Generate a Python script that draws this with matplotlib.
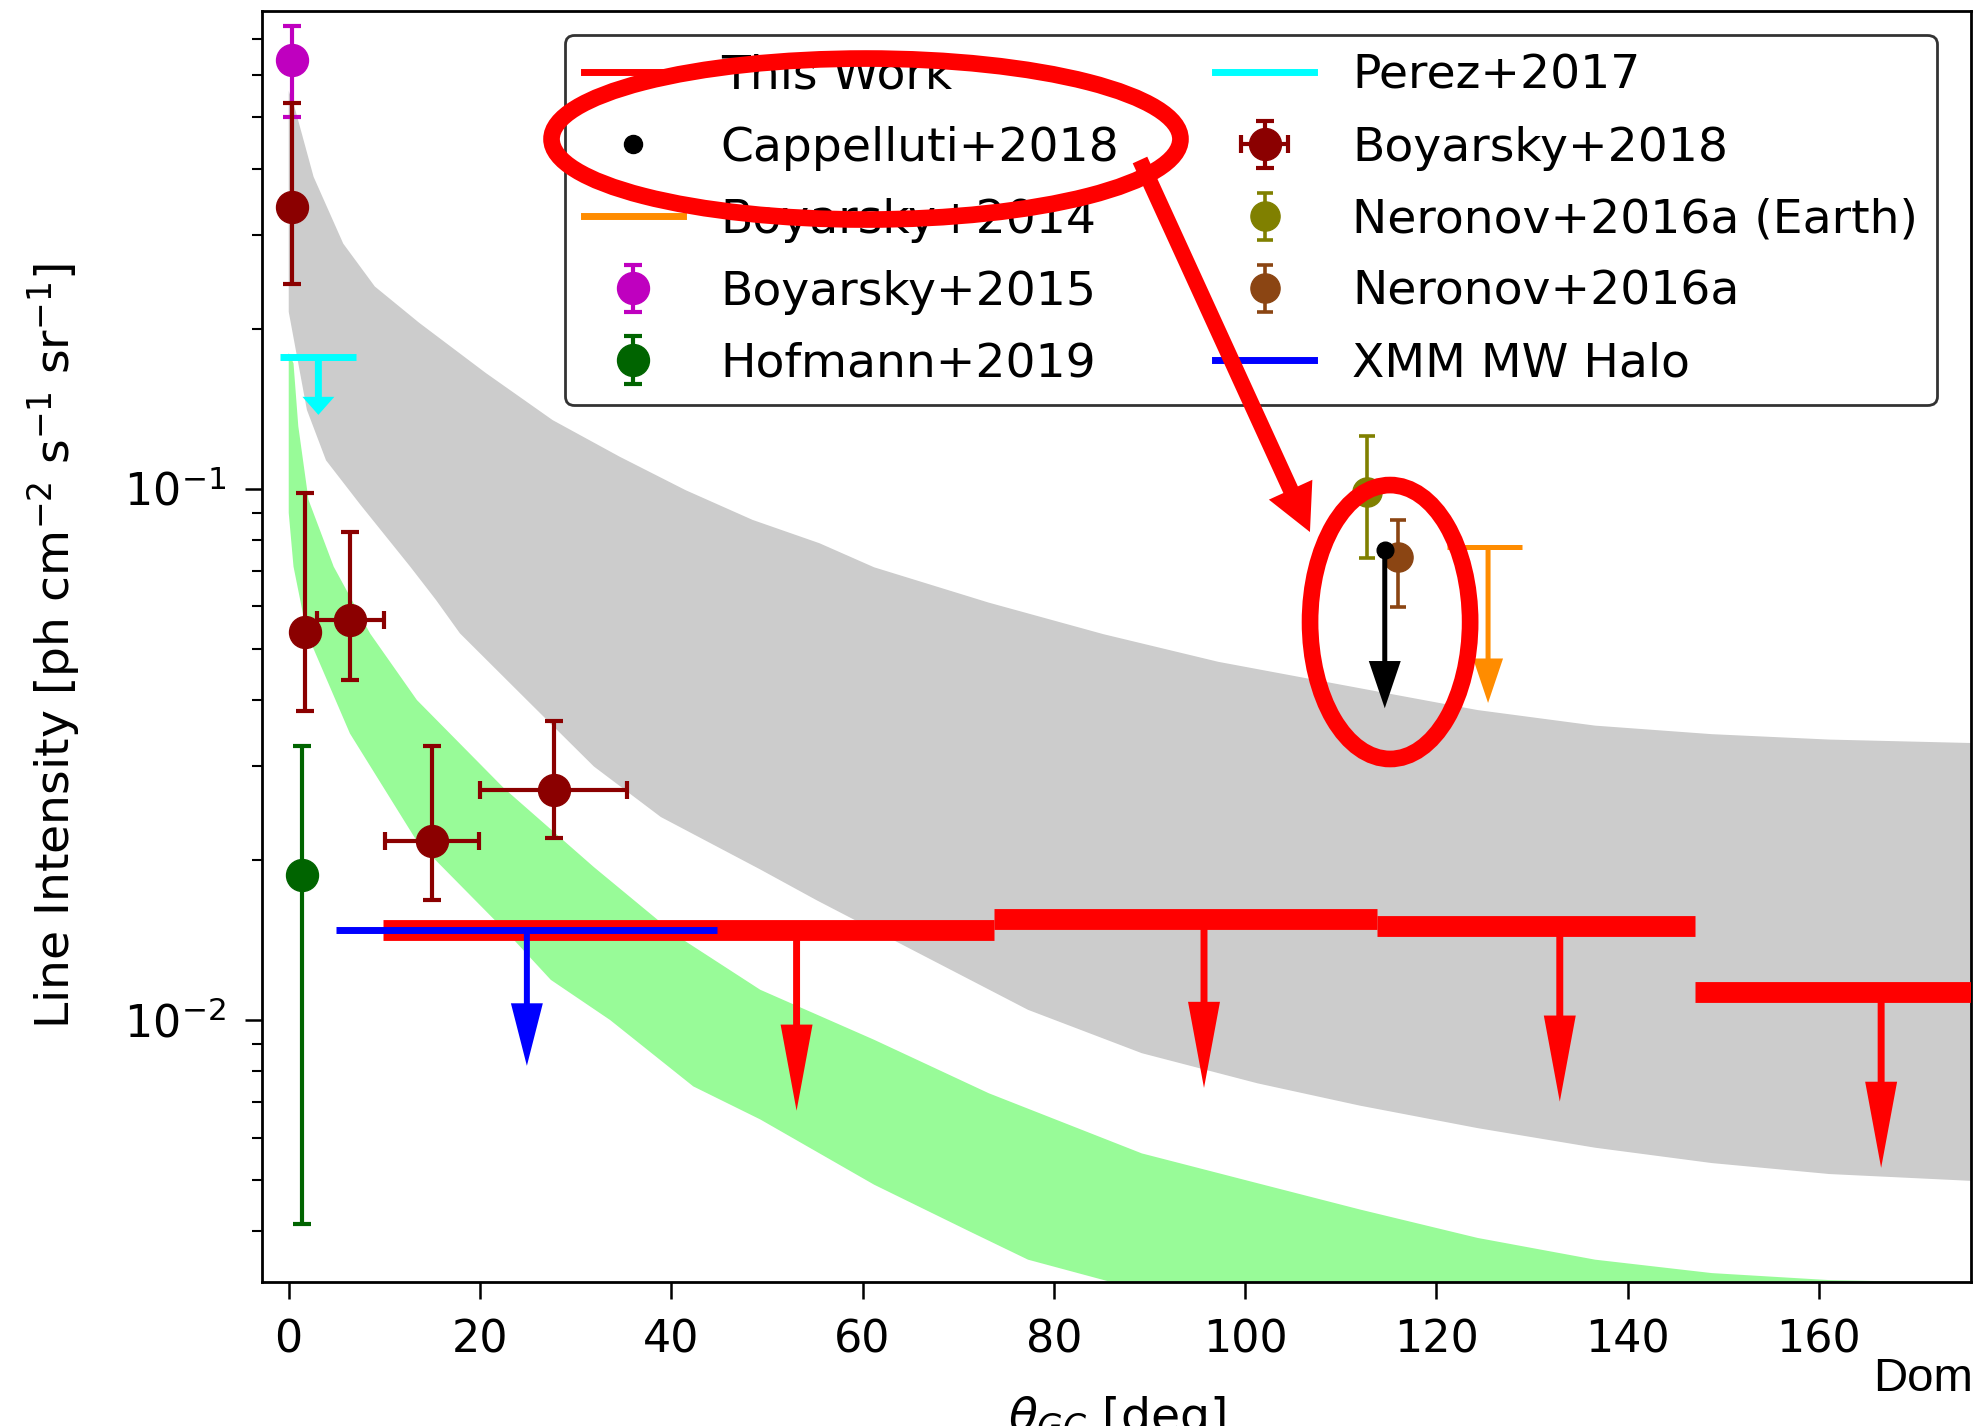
#!/usr/bin/env python3
# -*- coding: utf-8 -*-
"""
3.5 keV 線強度の上限値と各種観測の比較図 (スライド切り抜き風・赤丸注記付き)
"""

import numpy as np
import matplotlib
matplotlib.use('Agg')
import matplotlib.pyplot as plt
from matplotlib.lines import Line2D
from matplotlib.patches import Ellipse, FancyArrowPatch

# =================================================================
# データ (角度 [deg], 線強度 [ph cm^-2 s^-1 sr^-1])
# =================================================================
# 灰色バンド
gray_up_x = [0.0, 0.7, 2.6, 5.7, 9.0, 13.65, 20.6, 27.6, 34.6, 41.5, 48.5, 55.5,
             61.2, 73.2, 85.2, 97.2, 112.0, 124.3, 136.6, 148.8, 161.1, 176.0]
gray_up_y = [0.56, 0.515, 0.386, 0.289, 0.240, 0.205, 0.165, 0.1345, 0.1148, 0.0993,
             0.0873, 0.0789, 0.0711, 0.0610, 0.0532, 0.0472, 0.0421, 0.0383, 0.0358,
             0.0345, 0.0337, 0.0332]
gray_lo_x = [0.0, 1.9, 3.9, 7.5, 12.7, 15.4, 17.9, 24.9, 31.9, 38.9, 49.3, 55.2, 65.2,
             77.3, 89.2, 101.3, 112.0, 124.3, 136.6, 148.8, 161.1, 176.0]
gray_lo_y = [0.215, 0.1406, 0.113, 0.0932, 0.0713, 0.0617, 0.0534, 0.0400, 0.0300,
             0.0241, 0.0192, 0.0168, 0.01355, 0.01045, 0.00866, 0.0076, 0.0069,
             0.00626, 0.00575, 0.00538, 0.00513, 0.00498]

# 緑バンド
green_up_x = [0.0, 0.5, 1.0, 2.07, 4.7, 8.5, 13.4, 22.5, 31.9, 40.6, 49.3, 61.2, 73.2,
              89.2, 101.3, 112.0, 124.3, 136.6, 148.8, 161.1, 176.0]
green_up_y = [0.18, 0.172, 0.131, 0.0952, 0.0713, 0.0534, 0.0400, 0.0273, 0.0194,
              0.0144, 0.0114, 0.00918, 0.00728, 0.00561, 0.00493, 0.0044, 0.00389,
              0.00354, 0.00334, 0.00324, 0.0032]
green_lo_x = [0.0, 0.5, 1.9, 6.4, 13.4, 23.0, 27.4, 33.6, 42.3, 49.3, 61.2, 71.2, 77.3,
              89.2, 100.0, 130.0, 176.0]
green_lo_y = [0.09, 0.0713, 0.0534, 0.0346, 0.0217, 0.0145, 0.0119, 0.0100, 0.0075,
              0.0065, 0.0049, 0.0040, 0.00354, 0.0031, 0.0028, 0.0022, 0.0017]

# This Work (上限値)
tw_x_lo = [9.9, 73.7, 113.8, 147.0]
tw_x_hi = [73.7, 113.8, 147.0, 180.0]
tw_y = [0.01477, 0.01547, 0.0150, 0.01128]
tw_arrow_x = [53.1, 95.7, 132.9, 166.5]
tw_tip = [0.00675, 0.00745, 0.00702, 0.00527]

# XMM MW Halo
xmm_x_lo, xmm_x_hi = [4.9], [44.8]
xmm_y = [0.01477]
xmm_arrow_x = [24.9]
xmm_tip = [0.0082]

# Perez+2017
perez_x_lo, perez_x_hi = [-0.9], [7.0]
perez_y = [0.177]
perez_arrow_x = [3.1]
perez_tip = [0.1376]

# Boyarsky+2014
boy14_x_lo, boy14_x_hi = [121.1], [128.9]
boy14_y = [0.0777]
boy14_arrow_x = [125.4]
boy14_tip = [0.0395]

# Cappelluti+2018
cap18_x = [114.6]
cap18_y = [0.0766]
cap18_tip = [0.0386]

# Boyarsky+2015
boy15_x = [0.3]
boy15_y = [0.640]
boy15_lo = [0.501]
boy15_hi = [0.742]

# Boyarsky+2018
boy18_x = [0.33, 1.73, 6.45, 14.98, 27.7]
boy18_xerr = [0.0, 0.0, 3.5, 4.9, 7.65]
boy18_y = [0.339, 0.0538, 0.0566, 0.0217, 0.0271]
boy18_lo = [0.243, 0.0382, 0.0436, 0.0168, 0.0220]
boy18_hi = [0.531, 0.098, 0.0829, 0.0328, 0.0366]

# Hofmann+2019
hof19_x = [1.38]
hof19_y = [0.01875]
hof19_lo = [0.00413]
hof19_hi = [0.0328]

# Neronov+2016a (Earth)
ner_e_x = [112.7]
ner_e_y = [0.0986]
ner_e_lo = [0.0740]
ner_e_hi = [0.1258]

# Neronov+2016a
ner_x = [116.0]
ner_y = [0.0743]
ner_lo = [0.0599]
ner_hi = [0.0873]

X_TICKS = [0, 20, 40, 60, 80, 100, 120, 140, 160]


def yerr_of(y, lo, hi):
    y, lo, hi = map(np.asarray, (y, lo, hi))
    return [y - lo, hi - y]


def down_arrows(ax, xs, ys, tips, color, head_len, head_w, tail_w, z=6):
    # 上限値を示す下向き矢印 (サイズは pt)
    for x, y, t in zip(xs, ys, tips):
        style = f'simple,head_length={head_len},head_width={head_w},tail_width={tail_w}'
        ax.annotate('', xy=(x, t), xytext=(x, y),
                    arrowprops=dict(arrowstyle=style, fc=color, ec='none', lw=0,
                                    shrinkA=0, shrinkB=0, mutation_scale=1),
                    zorder=z)


fig = plt.figure(figsize=(19.74, 14.26), dpi=100)
ax = fig.add_axes([0.1327, 0.1010, 0.8658, 0.8913])
ax.set_yscale('log')

# --- バンド ---
ax.fill(np.concatenate([gray_up_x, gray_lo_x[::-1]]),
        np.concatenate([gray_up_y, gray_lo_y[::-1]]),
        color='#cccccc', lw=0, zorder=1)
ax.fill(np.concatenate([green_up_x, green_lo_x[::-1]]),
        np.concatenate([green_up_y, green_lo_y[::-1]]),
        color='#98fb98', lw=0, zorder=1)

# --- 上限値 (水平線 + 矢印) ---
ax.hlines(tw_y, tw_x_lo, tw_x_hi, colors='red', lw=15, zorder=3)
down_arrows(ax, tw_arrow_x, tw_y, tw_tip, 'red', 62, 23, 5)
ax.hlines(xmm_y, xmm_x_lo, xmm_x_hi, colors='blue', lw=5, zorder=4)
down_arrows(ax, xmm_arrow_x, xmm_y, xmm_tip, 'blue', 45, 23, 4.3)
ax.hlines(perez_y, perez_x_lo, perez_x_hi, colors='cyan', lw=5, zorder=4)
down_arrows(ax, perez_arrow_x, perez_y, perez_tip, 'cyan', 13, 23, 5)
ax.hlines(boy14_y, boy14_x_lo, boy14_x_hi, colors='darkorange', lw=3.6, zorder=4)
down_arrows(ax, boy14_arrow_x, boy14_y, boy14_tip, 'darkorange', 32, 21.6, 3.6)
down_arrows(ax, cap18_x, cap18_y, cap18_tip, 'black', 34, 23, 3.6)

# --- 測定点 ---
eb_kw = dict(fmt='o', ms=23, elinewidth=3, capsize=6.5, capthick=3, zorder=5)
h_b15 = ax.errorbar(boy15_x, boy15_y, yerr=yerr_of(boy15_y, boy15_lo, boy15_hi),
                    color='m', **eb_kw)
h_b18 = ax.errorbar(boy18_x, boy18_y, yerr=yerr_of(boy18_y, boy18_lo, boy18_hi),
                    xerr=boy18_xerr, color='#8b0000', **eb_kw)
h_hof = ax.errorbar(hof19_x, hof19_y, yerr=yerr_of(hof19_y, hof19_lo, hof19_hi),
                    color='darkgreen', **eb_kw)
eb_kw2 = dict(fmt='o', ms=21, elinewidth=2.6, capsize=6, capthick=2.6, zorder=5)
h_nere = ax.errorbar(ner_e_x, ner_e_y, yerr=yerr_of(ner_e_y, ner_e_lo, ner_e_hi),
                     color='olive', **eb_kw2)
h_ner = ax.errorbar(ner_x, ner_y, yerr=yerr_of(ner_y, ner_lo, ner_hi),
                    color='saddlebrown', **eb_kw2)
h_cap, = ax.plot(cap18_x, cap18_y, 'o', color='k', ms=12, zorder=7)

# --- 軸 ---
ax.set_xlim(-2.8, 175.9)
ax.set_ylim(0.003214, 0.7918)
ax.set_xticks(X_TICKS)
ax.tick_params(which='major', length=12, width=1.8, labelsize=32, pad=14)
ax.tick_params(which='minor', length=7, width=1.5)
for s in ax.spines.values():
    s.set_linewidth(2)
ax.set_xlabel(r'$\theta_{GC}$ [deg]', fontsize=34, labelpad=24)
ax.set_ylabel(r'Line Intensity [ph cm$^{-2}$ s$^{-1}$ sr$^{-1}$]', fontsize=34,
              labelpad=30)

# --- 凡例 ---
handles = [
    Line2D([], [], color='red', lw=5),
    Line2D([], [], ls='none', marker='o', color='k', ms=13),
    Line2D([], [], color='darkorange', lw=5),
    h_b15, h_hof,
    Line2D([], [], color='cyan', lw=5),
    h_b18, h_nere, h_ner,
    Line2D([], [], color='blue', lw=5),
]
labels = ['This Work', 'Cappelluti+2018', 'Boyarsky+2014', 'Boyarsky+2015',
          'Hofmann+2019', 'Perez+2017', 'Boyarsky+2018', 'Neronov+2016a (Earth)',
          'Neronov+2016a', 'XMM MW Halo']
leg = ax.legend(handles, labels, ncol=2, fontsize=34, loc='upper left',
                bbox_to_anchor=(0.1773, 0.9811), borderaxespad=0,
                handlelength=2.1, handletextpad=0.8, columnspacing=2.02,
                labelspacing=0.57, framealpha=1)
leg.get_frame().set_edgecolor('0.2')
leg.get_frame().set_linewidth(2)

# --- 赤丸と矢印の注記 (図座標) ---
fig.add_artist(Ellipse((0.4387, 0.9025), 0.3186, 0.1129, transform=fig.transFigure,
                       fill=False, ec='red', lw=12, zorder=20))
fig.add_artist(Ellipse((0.7042, 0.5638), 0.0811, 0.1921, transform=fig.transFigure,
                       fill=False, ec='red', lw=12, zorder=20))
fig.add_artist(FancyArrowPatch((0.5775, 0.8878), (0.6636, 0.6269),
                               transform=fig.transFigure,
                               arrowstyle='simple,head_length=33.5,head_width=34.4,tail_width=11.5',
                               mutation_scale=1, shrinkA=0, shrinkB=0,
                               fc='red', ec='none', lw=0, zorder=20))

fig.text(0.9488, 0.0245, 'Dom', fontsize=34, family='Liberation Sans',
         va='baseline', ha='left')

fig.savefig('out.png', dpi=100)
